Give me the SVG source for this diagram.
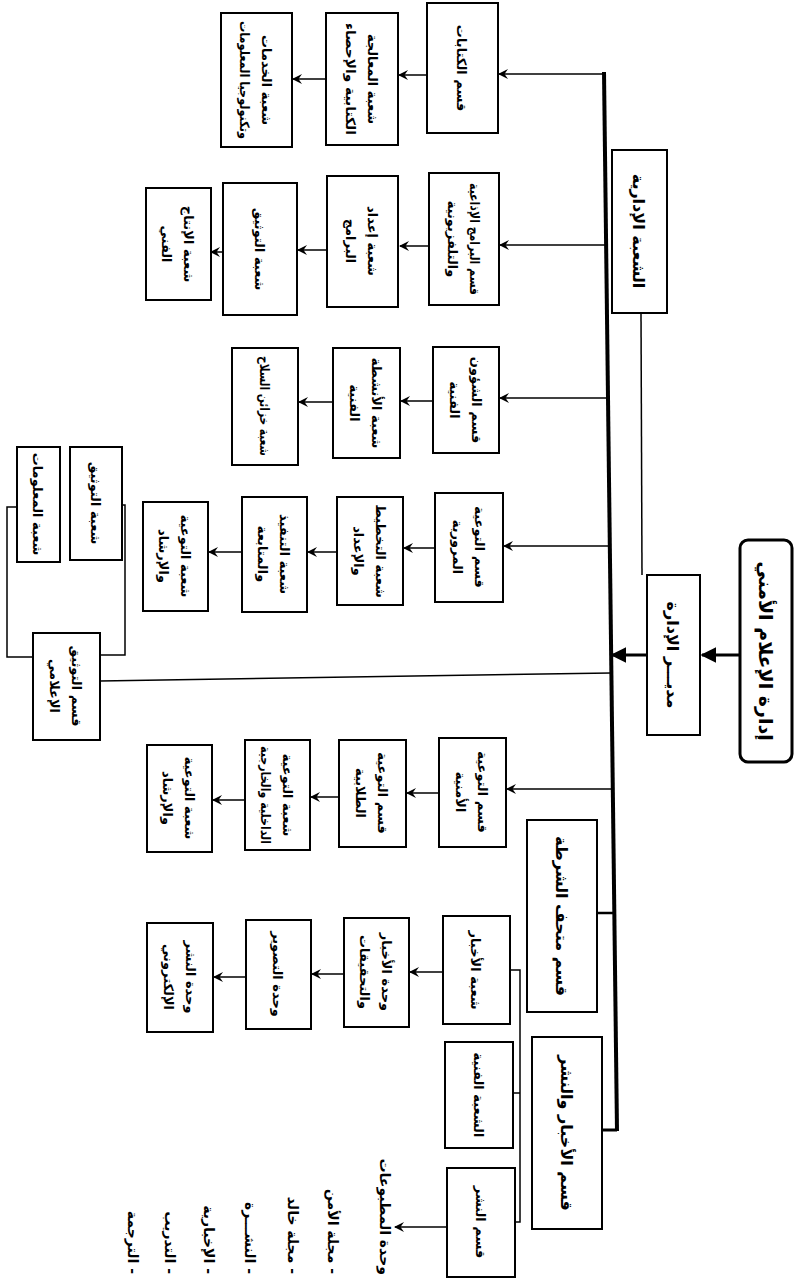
<svg xmlns="http://www.w3.org/2000/svg" width="795" height="1280" viewBox="0 0 795 1280">
<style>
.bx{fill:#fff;stroke:#000;stroke-width:2}
.t{font-family:"DejaVu Sans","Noto Sans",sans-serif;font-size:13px;font-weight:bold;fill:#000;text-anchor:middle}
.c{fill:none;stroke:#000;stroke-width:1.5}
.ca{fill:none;stroke:#000;stroke-width:1.5;marker-end:url(#ah)}
.lst{font-family:"DejaVu Sans","Noto Sans",sans-serif;font-size:14px;font-weight:bold;fill:#000;text-anchor:start}
</style>
<defs>
<marker id="ah" viewBox="0 0 10 10" refX="9" refY="5" markerWidth="10" markerHeight="10" markerUnits="userSpaceOnUse" orient="auto">
<path d="M0,0 L10,5 L0,10 L3.5,5 z" fill="#000"/>
</marker>
<marker id="big" viewBox="0 0 10 10" refX="9" refY="5" markerWidth="16" markerHeight="18" markerUnits="userSpaceOnUse" orient="auto">
<path d="M0,0 L10,5 L0,10 z" fill="#000"/>
</marker>
</defs>
<rect width="795" height="1280" fill="#fff"/>

<g id="connectors">
<line x1="604" y1="72" x2="617" y2="1131" stroke="#000" stroke-width="4"/>
<line class="ca" x1="604" y1="74" x2="499" y2="74"/>
<line class="ca" x1="606" y1="245" x2="500" y2="245"/>
<line class="ca" x1="608" y1="398" x2="500" y2="398"/>
<line class="ca" x1="610" y1="546" x2="504" y2="546"/>
<line class="c" x1="611" y1="673" x2="100" y2="681"/>
<line class="ca" x1="613" y1="789" x2="507" y2="789"/>
<line x1="615" y1="913" x2="597" y2="913" stroke="#000" stroke-width="2.5"/>
<line x1="617" y1="1130" x2="602" y2="1130" stroke="#000" stroke-width="3"/>
<line x1="740" y1="655" x2="702" y2="655" stroke="#000" stroke-width="3" marker-end="url(#big)"/>
<line x1="647" y1="655" x2="612" y2="655" stroke="#000" stroke-width="3" marker-end="url(#big)"/>
<line class="c" x1="641" y1="313" x2="642" y2="575"/>
<line class="ca" x1="427" y1="75" x2="399" y2="75"/>
<line class="ca" x1="429" y1="246" x2="400" y2="246"/>
<line class="ca" x1="433" y1="401" x2="401" y2="401"/>
<line class="ca" x1="435" y1="548" x2="404" y2="548"/>
<line class="ca" x1="439" y1="793" x2="407" y2="793"/>
<line class="ca" x1="443" y1="972" x2="410" y2="972"/>
<line class="ca" x1="326" y1="79" x2="293" y2="79"/>
<line class="ca" x1="327" y1="250" x2="298" y2="250"/>
<line class="ca" x1="333" y1="402" x2="299" y2="402"/>
<line class="ca" x1="337" y1="552" x2="308" y2="552"/>
<line class="ca" x1="339" y1="797" x2="311" y2="797"/>
<line class="ca" x1="344" y1="974" x2="312" y2="974"/>
<line class="ca" x1="223" y1="252" x2="211" y2="252"/>
<line class="ca" x1="242" y1="552" x2="209" y2="552"/>
<line class="ca" x1="245" y1="800" x2="213" y2="800"/>
<line class="ca" x1="246" y1="977" x2="214" y2="977"/>
<line class="ca" x1="447" y1="1227" x2="395" y2="1227"/>
<polyline class="c" points="510,970 520,970 520,1222 515,1222"/>
<line class="c" x1="513" y1="1093" x2="520" y2="1093"/>
<polyline class="c" points="33,657 7,657 7,507 17,507"/>
<polyline class="c" points="100,655 125,655 125,505 122,505"/>
</g>

<g id="root"><rect x="740" y="540" width="52" height="222" rx="8" fill="#fff" stroke="#000" stroke-width="3"/>
<g transform="translate(766,651) rotate(90)"><text class="t" direction="rtl" y="7" style="font-size:19px">إدارة الإعلام الأمني</text></g></g>

<g id="manager"><rect class="bx" x="647" y="575" width="53" height="160"/>
<g transform="translate(673,655) rotate(90)"><text class="t" direction="rtl" y="6" style="font-size:16px">مديـــر الإدارة</text></g></g>

<g id="admin"><rect class="bx" x="612" y="150" width="55" height="163"/>
<g transform="translate(639,231) rotate(90)"><text class="t" direction="rtl" y="6" style="font-size:16px">الشعبة الإدارية</text></g></g>

<g id="k1"><rect class="bx" x="427" y="3" width="71" height="130"/>
<g transform="translate(462,68) rotate(90)"><text class="t" direction="rtl" y="5">قسم الكتابات</text></g></g>

<g id="k2"><rect class="bx" x="429" y="173" width="70" height="132"/>
<g transform="translate(464,239) rotate(90)"><text class="t" direction="rtl" y="-6" textLength="112" lengthAdjust="spacingAndGlyphs">قسم البرامج الإذاعية</text><text class="t" direction="rtl" y="16">والتلفزيونية</text></g></g>

<g id="k3"><rect class="bx" x="433" y="347" width="66" height="106"/>
<g transform="translate(466,400) rotate(90)"><text class="t" direction="rtl" y="-6">قسم الشؤون</text><text class="t" direction="rtl" y="16">الفنية</text></g></g>

<g id="k4"><rect class="bx" x="435" y="493" width="68" height="109"/>
<g transform="translate(469,547) rotate(90)"><text class="t" direction="rtl" y="-6">قسم التوعية</text><text class="t" direction="rtl" y="16">المرورية</text></g></g>

<g id="k5"><rect class="bx" x="439" y="738" width="67" height="109"/>
<g transform="translate(472,792) rotate(90)"><text class="t" direction="rtl" y="-6">قسم التوعية</text><text class="t" direction="rtl" y="16">الأمنية</text></g></g>

<g id="museum"><rect class="bx" x="527" y="820" width="70" height="192"/>
<g transform="translate(562,916) rotate(90)"><text class="t" direction="rtl" y="6" style="font-size:16px">قسم متحف الشرطة</text></g></g>

<g id="newsdept"><rect class="bx" x="532" y="1037" width="70" height="192"/>
<g transform="translate(567,1133) rotate(90)"><text class="t" direction="rtl" y="6" style="font-size:16px">قسم الأخبار والنشر</text></g></g>

<g id="a1"><rect class="bx" x="326" y="13" width="72" height="132"/>
<g transform="translate(362,79) rotate(90)"><text class="t" direction="rtl" y="-6">شعبة المعالجة</text><text class="t" direction="rtl" y="16" textLength="112" lengthAdjust="spacingAndGlyphs">الكتابية والإحصاء</text></g></g>

<g id="a2"><rect class="bx" x="327" y="176" width="71" height="131"/>
<g transform="translate(362,241) rotate(90)"><text class="t" direction="rtl" y="-6">شعبة إعداد</text><text class="t" direction="rtl" y="16">البرامج</text></g></g>

<g id="a3"><rect class="bx" x="333" y="348" width="67" height="110"/>
<g transform="translate(366,403) rotate(90)"><text class="t" direction="rtl" y="-6">شعبة الأنشطة</text><text class="t" direction="rtl" y="16">الفنية</text></g></g>

<g id="a4"><rect class="bx" x="337" y="497" width="66" height="108"/>
<g transform="translate(370,551) rotate(90)"><text class="t" direction="rtl" y="-6">شعبة التخطيط</text><text class="t" direction="rtl" y="16">والإعداد</text></g></g>

<g id="a5"><rect class="bx" x="339" y="740" width="67" height="107"/>
<g transform="translate(372,793) rotate(90)"><text class="t" direction="rtl" y="-6">قسم التوعية</text><text class="t" direction="rtl" y="16">الطلابية</text></g></g>

<g id="b1"><rect class="bx" x="443" y="916" width="67" height="108"/>
<g transform="translate(476,970) rotate(90)"><text class="t" direction="rtl" y="5">شعبة الأخبار</text></g></g>

<g id="b2"><rect class="bx" x="445" y="1042" width="68" height="106"/>
<g transform="translate(479,1095) rotate(90)"><text class="t" direction="rtl" y="5">الشعبة الفنية</text></g></g>

<g id="b3"><rect class="bx" x="447" y="1168" width="68" height="109"/>
<g transform="translate(481,1222) rotate(90)"><text class="t" direction="rtl" y="5">قسم النشر</text></g></g>

<g id="a6"><rect class="bx" x="344" y="918" width="65" height="109"/>
<g transform="translate(376,972) rotate(90)"><text class="t" direction="rtl" y="-6">وحدة الأخبار</text><text class="t" direction="rtl" y="16">والتحقيقات</text></g></g>

<g id="c1"><rect class="bx" x="221" y="13" width="71" height="134"/>
<g transform="translate(256,80) rotate(90)"><text class="t" direction="rtl" y="-6">شعبة الخدمات</text><text class="t" direction="rtl" y="16" textLength="118" lengthAdjust="spacingAndGlyphs">وتكنولوجيا المعلومات</text></g></g>

<g id="c2"><rect class="bx" x="223" y="183" width="74" height="132"/>
<g transform="translate(260,249) rotate(90)"><text class="t" direction="rtl" y="5">شعبة التوثيق</text></g></g>

<g id="c3"><rect class="bx" x="232" y="348" width="66" height="117"/>
<g transform="translate(265,406) rotate(90)"><text class="t" direction="rtl" y="5" textLength="100" lengthAdjust="spacingAndGlyphs">شعبة خزائن السلاح</text></g></g>

<g id="c4"><rect class="bx" x="242" y="497" width="65" height="115"/>
<g transform="translate(274,554) rotate(90)"><text class="t" direction="rtl" y="-6">شعبة التنفيذ</text><text class="t" direction="rtl" y="16">والمتابعة</text></g></g>

<g id="c5"><rect class="bx" x="245" y="740" width="65" height="110"/>
<g transform="translate(277,795) rotate(90)"><text class="t" direction="rtl" y="-6">شعبة التوعية</text><text class="t" direction="rtl" y="16" textLength="98" lengthAdjust="spacingAndGlyphs">الداخلية والخارجية</text></g></g>

<g id="c6"><rect class="bx" x="246" y="920" width="65" height="109"/>
<g transform="translate(278,974) rotate(90)"><text class="t" direction="rtl" y="5">وحدة التصوير</text></g></g>

<g id="d1"><rect class="bx" x="146" y="188" width="65" height="112"/>
<g transform="translate(178,244) rotate(90)"><text class="t" direction="rtl" y="-6">شعبة الإنتاج</text><text class="t" direction="rtl" y="16">الفني</text></g></g>

<g id="d2"><rect class="bx" x="143" y="502" width="65" height="109"/>
<g transform="translate(175,556) rotate(90)"><text class="t" direction="rtl" y="-6">شعبة التوعية</text><text class="t" direction="rtl" y="16">والإرشاد</text></g></g>

<g id="d3"><rect class="bx" x="147" y="745" width="65" height="107"/>
<g transform="translate(179,798) rotate(90)"><text class="t" direction="rtl" y="-6">شعبة التوعية</text><text class="t" direction="rtl" y="16">والإرشاد</text></g></g>

<g id="d4"><rect class="bx" x="147" y="923" width="66" height="109"/>
<g transform="translate(180,977) rotate(90)"><text class="t" direction="rtl" y="-6">وحدة النشر</text><text class="t" direction="rtl" y="16">الإلكتروني</text></g></g>

<g id="doc"><rect class="bx" x="33" y="633" width="67" height="107"/>
<g transform="translate(66,686) rotate(90)"><text class="t" direction="rtl" y="-6">قسم التوثيق</text><text class="t" direction="rtl" y="16">الإعلامي</text></g></g>

<g id="e1"><rect class="bx" x="70" y="447" width="52" height="113"/>
<g transform="translate(96,503) rotate(90)"><text class="t" direction="rtl" y="5">شعبة التوثيق</text></g></g>

<g id="e2"><rect class="bx" x="17" y="447" width="43" height="115"/>
<g transform="translate(38,504) rotate(90)"><text class="t" direction="rtl" y="5">شعبة المعلومات</text></g></g>

<g id="list">
<g transform="translate(385,1275) rotate(90)"><text class="lst" direction="rtl" y="5">وحدة المطبوعات</text></g>
<g transform="translate(333,1274) rotate(90)"><text class="lst" direction="rtl" y="5">- مجلة الأمن</text></g>
<g transform="translate(293,1274) rotate(90)"><text class="lst" direction="rtl" y="5">- مجلة خالد</text></g>
<g transform="translate(250,1274) rotate(90)"><text class="lst" direction="rtl" y="5">- النشـــرة</text></g>
<g transform="translate(209,1274) rotate(90)"><text class="lst" direction="rtl" y="5">- الإخبارية</text></g>
<g transform="translate(170,1274) rotate(90)"><text class="lst" direction="rtl" y="5">- التدريب</text></g>
<g transform="translate(133,1274) rotate(90)"><text class="lst" direction="rtl" y="5">- الترجمة</text></g>
</g>
</svg>
